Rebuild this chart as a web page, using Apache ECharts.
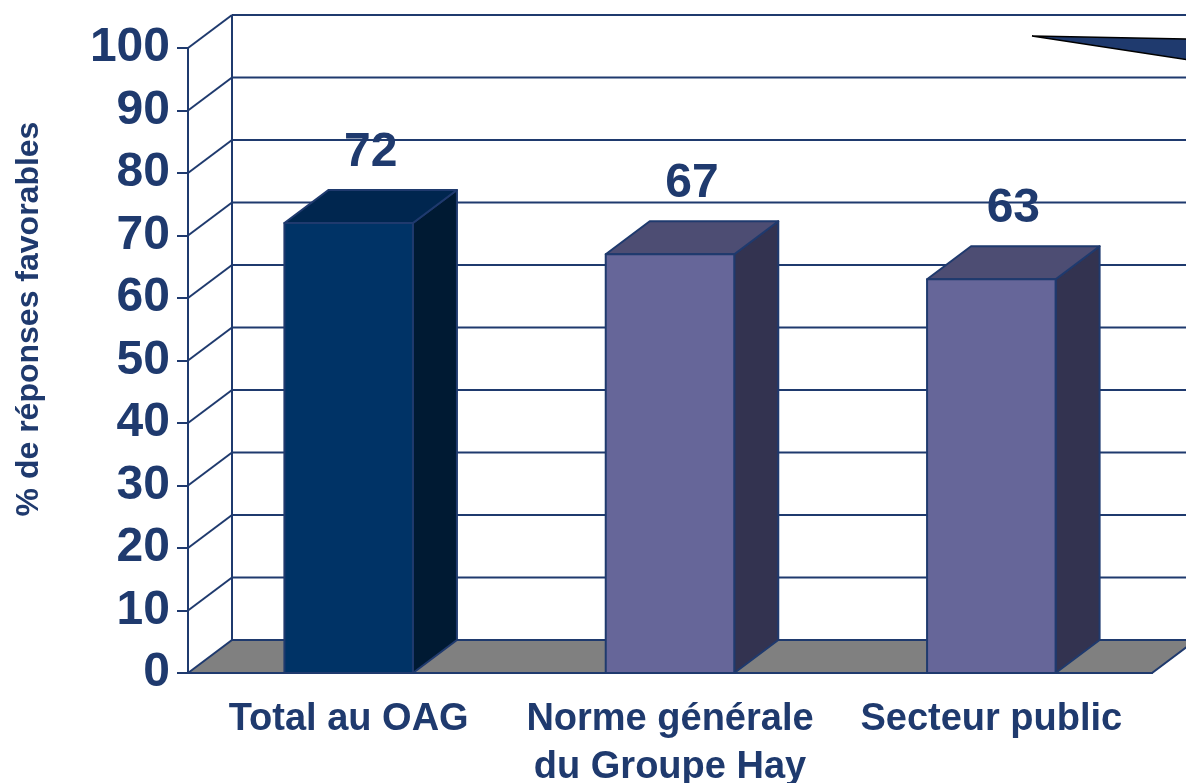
<!DOCTYPE html>
<html>
<head>
<meta charset="utf-8">
<script src="https://cdn.jsdelivr.net/npm/echarts@6/dist/echarts.min.js"></script>
<style>
  html, body { margin: 0; padding: 0; background: #fff; }
  #chart { width: 1186px; height: 783px; }
</style>
</head>
<body>
<div id="chart"></div>
<script>
// données du graphique
const categories = ['Total au OAG', 'Norme générale\ndu Groupe Hay', 'Secteur public'];
const values = [72, 67, 63];
const yTicks = [0, 10, 20, 30, 40, 50, 60, 70, 80, 90, 100];
const yTitle = '% de réponses favorables';

const navy = '#1f3a6e';
const font = 'Arial, "Liberation Sans", sans-serif';
// décalage de profondeur (pseudo 3D)
const DX = 44, DY = -33;
// couleurs des faces: avant, dessus, côté
const faces = [
    ['#003366', '#00264f', '#001a33'],
    ['#666699', '#4d4d73', '#333350'],
    ['#666699', '#4d4d73', '#333350']
];

const chart = echarts.init(document.getElementById('chart'));

function renderWalls(params, api) {
    const cs = params.coordSys;
    const v = api.value(0);
    const y = api.coord([0, v])[1];
    const x0 = cs.x, x1 = cs.x + cs.width;
    const children = [];
    const line = { stroke: navy, lineWidth: 2 };
    if (v === 0) {
        // sol gris
        children.push({
            type: 'polygon',
            shape: { points: [[x0, y], [x0 + DX, y + DY], [x1 + DX, y + DY], [x1, y]] },
            style: { fill: '#808080', stroke: navy, lineWidth: 2 }
        });
        // arête verticale du fond
        const yTop = api.coord([0, yTicks[yTicks.length - 1]])[1];
        children.push({
            type: 'line',
            shape: { x1: x0 + DX, y1: y + DY, x2: x0 + DX, y2: yTop + DY },
            style: line
        });
    } else {
        children.push({
            type: 'line',
            shape: { x1: x0, y1: y, x2: x0 + DX, y2: y + DY },
            style: line
        });
        children.push({
            type: 'line',
            shape: { x1: x0 + DX, y1: y + DY, x2: x1 + DX, y2: y + DY },
            style: line
        });
    }
    return { type: 'group', children: children };
}

function renderBars(params, api) {
    const i = api.value(0);
    const v = api.value(1);
    const top = api.coord([i, v]);
    const base = api.coord([i, 0]);
    const w = api.size([1, 0])[0] * 0.4;
    const l = top[0] - w / 2, r = top[0] + w / 2;
    const t = top[1], b = base[1];
    const c = faces[i];
    const edge = { stroke: navy, lineWidth: 2, lineJoin: 'round' };
    return {
        type: 'group',
        children: [
            {
                type: 'polygon',
                shape: { points: [[r, b], [r + DX, b + DY], [r + DX, t + DY], [r, t]] },
                style: Object.assign({ fill: c[2] }, edge)
            },
            {
                type: 'polygon',
                shape: { points: [[l, t], [l + DX, t + DY], [r + DX, t + DY], [r, t]] },
                style: Object.assign({ fill: c[1] }, edge)
            },
            {
                type: 'rect',
                shape: { x: l, y: t, width: w, height: b - t },
                style: Object.assign({ fill: c[0] }, edge)
            },
            {
                type: 'text',
                x: top[0] + DX / 2,
                y: t + DY - 37,
                style: {
                    text: String(v),
                    fill: navy,
                    font: 'bold 48px ' + font,
                    align: 'center',
                    verticalAlign: 'middle'
                }
            }
        ]
    };
}

const option = {
    animation: false,
    backgroundColor: '#fff',
    grid: { left: 188, right: 34, top: 48, bottom: 110, containLabel: false, outerBoundsMode: 'none' },
    xAxis: {
        type: 'category',
        data: categories,
        axisLine: { lineStyle: { color: navy, width: 2 } },
        axisTick: { length: 12, lineStyle: { color: navy, width: 2 } },
        axisLabel: {
            margin: 23,
            color: navy,
            fontSize: 38,
            fontWeight: 'bold',
            fontFamily: font,
            lineHeight: 48,
            interval: 0
        },
        splitLine: { show: false }
    },
    yAxis: {
        type: 'value',
        min: 0,
        max: 100,
        interval: 10,
        axisLine: { show: true, lineStyle: { color: navy, width: 2 } },
        axisTick: { show: true, length: 11, lineStyle: { color: navy, width: 2 } },
        axisLabel: {
            margin: 18,
            color: navy,
            fontSize: 48,
            fontWeight: 'bold',
            fontFamily: font
        },
        splitLine: { show: false }
    },
    series: [
        {
            type: 'custom',
            z: 1,
            silent: true,
            renderItem: renderWalls,
            data: yTicks.map(v => [v])
        },
        {
            type: 'custom',
            z: 3,
            renderItem: renderBars,
            data: values.map((v, i) => [i, v])
        }
    ],
    graphic: [
        {
            // titre de l'axe vertical
            type: 'text',
            x: 29,
            y: 319,
            rotation: Math.PI / 2,
            style: {
                text: yTitle,
                fill: navy,
                font: 'bold 32px ' + font,
                align: 'center',
                verticalAlign: 'middle'
            }
        },
        {
            // bout de légende coupé en haut à droite
            type: 'polygon',
            shape: { points: [[1032, 36], [1190, 39], [1190, 60]] },
            style: { fill: navy, stroke: '#000', lineWidth: 1.5 }
        }
    ]
};

chart.setOption(option);
window.addEventListener('resize', () => chart.resize());
</script>
</body>
</html>
